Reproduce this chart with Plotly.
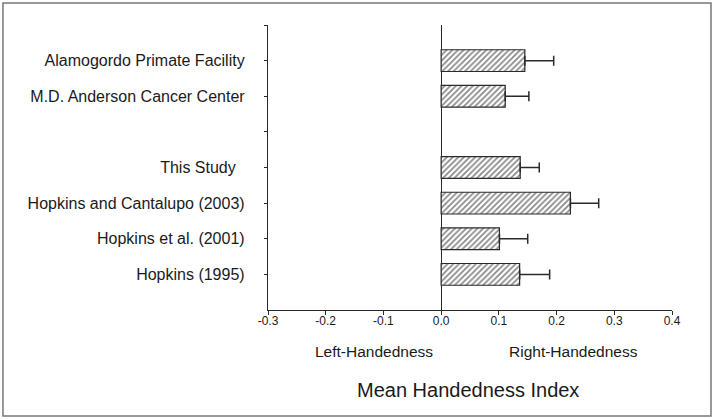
import plotly.graph_objects as go

# Categories from bottom to top; "" is an empty spacer slot
categories = ["Hopkins (1995)", "Hopkins et al. (2001)", "Hopkins and Cantalupo (2003)",
              "This Study\u00a0\u00a0", "", "M.D. Anderson Cancer Center", "Alamogordo Primate Facility"]
mean_index = [0.136, 0.101, 0.224, 0.137, None, 0.111, 0.145]
sem = [0.052, 0.049, 0.049, 0.033, None, 0.041, 0.050]
x_ticks = [-0.3, -0.2, -0.1, 0.0, 0.1, 0.2, 0.3, 0.4]
x_tick_labels = ["-0.3", "-0.2", "-0.1", "0.0", "0.1", "0.2", "0.3", "0.4"]

positions = list(range(len(categories)))
bar_pos = [p for p, v in zip(positions, mean_index) if v is not None]
bar_val = [v for v in mean_index if v is not None]
bar_err = [e for e in sem if e is not None]

FONT = "Liberation Sans, Arial, sans-serif"
INK = "#2a2a2a"
TXT = "#1a1a1a"

fig = go.Figure()
fig.add_trace(go.Bar(
    x=bar_val, y=bar_pos, orientation="h", width=0.61,
    marker=dict(color="white",
                line=dict(color=INK, width=1.2),
                pattern=dict(shape="/", size=4, solidity=0.45, fgcolor="#151515", bgcolor="white")),
    error_x=dict(type="data", array=bar_err, arrayminus=[0] * len(bar_err), symmetric=False,
                 color=INK, thickness=1.5, width=5),
    showlegend=False, hoverinfo="skip",
))

fig.update_layout(
    width=714, height=419,
    margin=dict(l=268, r=42, t=25, b=109),
    paper_bgcolor="white", plot_bgcolor="white",
    font=dict(family=FONT, color=TXT),
    xaxis=dict(range=[-0.3, 0.4], tickvals=x_ticks, ticktext=x_tick_labels,
               showgrid=False, zeroline=True, zerolinecolor=INK, zerolinewidth=1.3,
               showline=True, linecolor=INK, linewidth=1.3,
               ticks="outside", ticklen=4, tickcolor=INK, tickwidth=1.2,
               ticklabelstandoff=-5,
               tickfont=dict(size=12, family=FONT, color=TXT)),
    yaxis=dict(range=[-1, 7], tickvals=positions + [len(categories)],
               ticktext=categories + [""],
               showgrid=False, zeroline=False,
               showline=True, linecolor=INK, linewidth=1.3,
               ticks="outside", ticklen=3, tickcolor=INK, tickwidth=1.2,
               ticklabelstandoff=16,
               tickfont=dict(size=16, family=FONT, color=TXT)),
    annotations=[
        dict(text="Left-Handedness", xref="paper", yref="paper", x=0.2636, y=-0.146,
             xanchor="center", yanchor="middle",
             showarrow=False, font=dict(size=15.5, family=FONT, color=TXT)),
        dict(text="Right-Handedness", xref="paper", yref="paper", x=0.755, y=-0.146,
             xanchor="center", yanchor="middle",
             showarrow=False, font=dict(size=15.5, family=FONT, color=TXT)),
        dict(text="Mean Handedness Index", xref="paper", yref="paper", x=0.495, y=-0.282,
             xanchor="center", yanchor="middle",
             showarrow=False, font=dict(size=20, family=FONT, color=TXT)),
    ],
    shapes=[
        dict(type="rect", xref="paper", yref="paper", x0=-0.656, x1=1.0965, y0=-0.372, y1=1.077,
             line=dict(color="#777777", width=1.5), fillcolor="rgba(0,0,0,0)"),
    ],
)

fig.write_html("out.html", config={"displayModeBar": False},
               post_script="document.body.style.margin='0';")
